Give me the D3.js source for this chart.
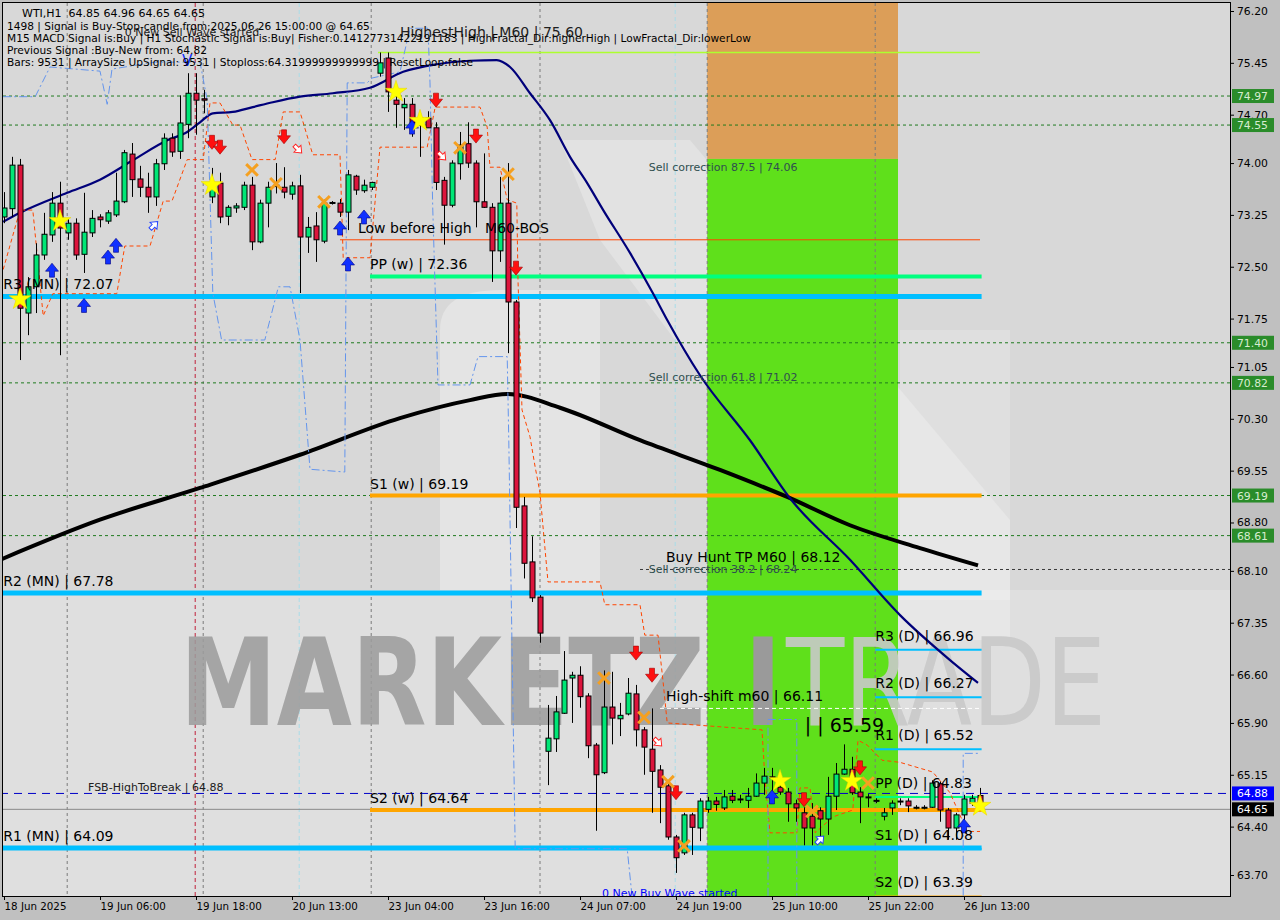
<!DOCTYPE html>
<html><head><meta charset="utf-8">
<script src="https://cdn.jsdelivr.net/npm/d3@7"></script>
<style>body{margin:0;background:#c0c0c0;overflow:hidden}svg{display:block}text{font-family:"DejaVu Sans",sans-serif;white-space:pre}</style>
</head><body>
<svg id="c" width="1280" height="920"></svg>
<script>
// ---------------- DATA ----------------
const opens=[73.22,73.34,73.97,71.83,72.21,72.67,72.96,73.42,72.99,73.13,
72.68,72.99,73.22,73.16,73.25,73.44,74.13,73.77,73.65,73.51,
73.99,74.36,74.17,74.56,75.01,74.93,73.51,73.71,73.23,73.35,
73.36,73.68,72.86,73.42,73.68,73.65,73.55,73.67,72.93,73.09,
72.87,73.42,73.42,73.29,73.81,73.60,73.65,75.30,75.52,74.91,
74.80,74.85,74.55,74.65,74.51,73.75,73.39,73.99,74.28,74.00,
73.44,73.36,72.73,73.42,71.99,69.04,68.23,67.72,65.49,65.67,
66.04,66.55,66.59,66.29,65.58,65.18,66.13,65.96,66.03,66.32,
65.80,65.52,65.22,64.99,64.25,64.02,64.57,64.38,64.65,64.77,
64.67,64.84,64.80,64.78,64.84,65.03,65.12,64.97,64.90,64.73,
64.60,64.55,64.63,64.51,64.84,65.16,65.23,64.90,64.83,64.78,
64.55,64.67,64.76,64.77,64.68,64.68,64.68,65.02,64.64,64.38,
64.57,64.74,64.85];
const highs=[73.58,74.09,74.06,72.35,72.84,73.28,73.58,73.73,73.20,73.20,
73.57,73.32,73.26,73.32,73.86,74.19,74.29,73.96,73.86,74.06,
74.43,74.43,74.98,75.30,75.30,75.06,73.93,73.86,73.39,73.42,
73.73,73.80,73.47,73.73,74.00,73.94,73.73,73.83,73.22,73.29,
73.47,73.45,73.48,73.90,73.83,73.76,73.73,75.60,75.60,75.06,
74.94,74.94,74.70,74.75,74.59,73.80,74.04,74.45,74.59,74.04,
74.14,73.42,73.80,74.00,72.02,69.17,68.60,67.75,66.16,66.29,
66.94,66.64,66.72,66.33,65.61,66.66,66.64,66.19,66.55,66.45,
65.84,66.11,65.29,65.02,64.28,64.60,64.60,64.81,64.83,64.83,
64.93,64.93,64.86,64.96,65.17,65.25,65.25,65.07,64.96,64.79,
64.68,64.74,64.68,65.12,65.32,65.59,65.41,64.97,64.87,64.81,
64.67,64.78,64.81,64.81,64.71,64.71,65.07,65.05,64.67,64.60,
64.86,64.86,64.96];
const lows=[73.13,73.22,71.15,71.51,71.83,72.60,72.86,71.22,72.89,72.60,
72.41,72.93,73.07,73.12,73.22,73.42,73.51,73.51,73.28,73.38,
73.90,74.09,74.06,74.36,74.41,74.72,73.42,73.13,73.10,73.28,
73.32,72.74,72.84,73.07,73.56,73.49,73.47,72.12,72.70,72.57,
72.84,73.40,73.22,73.03,73.54,73.57,73.61,75.25,74.74,74.51,
74.48,74.38,74.09,74.51,73.61,72.82,73.36,73.76,73.93,73.07,
73.35,72.28,72.57,71.25,68.72,67.99,67.65,67.06,65.00,65.48,
66.03,65.90,66.12,65.39,64.34,65.16,65.59,65.71,66.01,65.56,
65.15,64.60,64.45,64.21,63.73,63.99,63.99,64.19,64.60,64.63,
64.64,64.74,64.74,64.67,64.83,64.86,64.83,64.86,64.47,64.47,
64.13,64.13,64.21,64.28,64.64,65.15,64.86,64.45,64.68,64.74,
64.49,64.57,64.71,64.61,64.65,64.65,64.67,64.47,64.21,64.21,
64.49,64.70,64.65];
const closes=[73.35,73.97,71.90,72.21,72.67,72.97,73.42,73.06,73.13,72.67,
73.00,73.20,73.18,73.28,73.45,74.15,73.76,73.65,73.51,73.99,
74.36,74.16,74.58,75.01,74.91,74.91,73.71,73.22,73.36,73.38,
73.68,72.86,73.42,73.65,73.66,73.58,73.67,72.93,73.07,72.89,
73.42,73.43,73.29,73.83,73.61,73.68,73.72,75.45,75.03,74.85,
74.85,74.58,74.65,74.51,73.72,73.39,74.00,74.26,74.00,73.44,
73.36,72.73,73.42,71.99,69.02,68.21,67.71,67.20,65.68,66.06,
66.52,66.59,66.28,65.57,65.15,66.13,65.97,66.01,66.33,65.80,
65.55,65.20,64.97,64.25,63.95,64.57,64.39,64.77,64.77,64.72,
64.83,64.78,64.80,64.84,65.03,65.13,65.11,64.90,64.73,64.67,
64.38,64.38,64.51,64.84,65.16,65.23,64.89,64.83,64.83,64.78,
64.60,64.74,64.77,64.70,64.68,64.68,65.03,64.64,64.38,64.57,
64.80,64.81,64.65];

const navyIdx=[-0.1,2,7.9,12,16.1,20.4,22.9,24.5,26.1,28.6,31.1,33.6,37,41.1,45.75,49.9,54.1,58.25,61.6,63.25,65.75,68.25,70.75,72.9,74.9,78.25,81.1,82.9,87,93.25,98.25,105.75,112,118.25,121.75];
const navyVal=[73.15,73.28,73.57,73.76,74.04,74.33,74.45,74.59,74.72,74.74,74.81,74.88,74.96,75.01,75.09,75.32,75.43,75.48,75.49,75.39,75.01,74.62,74.09,73.71,73.32,72.70,72.12,71.73,70.93,69.99,69.15,68.26,67.46,66.81,66.48];
const blackIdx=[-0.5,12,24.5,37,49.5,58.25,62.9,69.5,79.5,89.5,97.9,105.75,114.5,121.75];
const blackVal=[68.26,68.84,69.30,69.78,70.31,70.57,70.66,70.46,69.99,69.56,69.17,68.76,68.43,68.18];

const stopIdx=[-0.1,2,3.6,4.9,6.1,14.1,15.1,18.25,19.9,21,22.9,24.9,25.75,27,28.6,29.5,31,33.9,34.9,37,38.6,42,42.4,45.75,47,52.9,53.9,59.5,60.4,60.75,62,62.9,64.1,64.25,64.75,65.75,66.4,67,67.6,68,74.5,75.1,79.5,80.1,81.75,82.4,82.9,94.75,95.1,95.75,99.1,99.5,100.75,101.4,103.6,106.1,106.75,107.9,109.75,112,116.1,118.25,120.4,122];
const stopVal=[72.46,73.32,73.32,71.79,72.11,72.11,72.80,72.80,73.45,73.45,74.05,74.05,74.87,74.87,74.55,74.55,74.05,74.05,74.74,74.74,74.12,74.12,72.63,72.63,74.23,74.23,74.81,74.81,74.52,73.94,73.94,73.47,73.42,72.31,70.43,70.04,69.60,69.23,68.45,67.94,67.94,67.61,67.61,67.17,67.17,66.48,65.90,65.80,65.12,64.31,64.31,64.96,64.96,64.31,64.54,64.64,65.65,65.58,65.36,65.33,65.19,64.89,64.33,64.33];
const bandIdx=[-0.1,3.9,5.75,12,12.9,13.5,18.9,24.5,25.4,26.1,27.2,32.6,34.3,35.75,37,38.25,42.6,42.9,45.4,46,49.5,50.75,53,53.25,53.6,54.25,58.25,59.25,62.9,63.1,63.5,63.9,77.9,78.5];
const bandVal=[74.96,74.96,75.39,75.33,74.85,75.36,75.46,75.46,74.91,72.12,71.44,71.44,72.21,72.21,71.44,69.57,69.53,75.16,75.16,75.23,75.32,75.95,75.95,75.16,73.32,70.79,70.79,71.20,71.20,69.98,67.02,64.08,64.08,63.40];
const band2Idx=[95.5,95.5,99.1,99.1];
const band2Val=[63.40,65.95,65.95,63.40];
const band3Idx=[119.9,119.9,121.9];
const band3Val=[63.40,65.46,65.46];

const starPts=[[2,72.03],[7,73.16],[26,73.68],[49,75.03],[52,74.61],[97,65.06],[106,65.06],[122,64.70]];
const crossPts=[[31,73.90],[34,73.70],[40,73.44],[57,74.22],[63,73.84],[75,66.55],[80,65.98],[83,65.05],[85,64.12],[101,64.62],[108,65.03]];
const sellArrows=[[26,74.30],[27,74.23],[35,74.38],[54,74.91],[59,74.39],[64,72.48],[79,66.91],[81,66.59],[84,64.89],[100,64.79],[107,65.25]];
const buyArrows=[[6,72.45],[10,71.94],[13,72.64],[14,72.81],[42,73.06],[43,72.54],[45,73.22],[51,74.52],[96,64.83],[120,64.41]];
const hollowSell=[[36.75,74.20],[54.75,74.10],[81.75,65.62]];
const hollowBuy=[[18.75,73.10],[102,64.21]];

const mnNames=["R3 (MN)","R2 (MN)","R1 (MN)"];
const mnVals=[72.07,67.78,64.09];
const wkNames=["PP (w)","S1 (w)","S2 (w)"];
const wkVals=[72.36,69.19,64.64];
const dNames=["R3 (D)","R2 (D)","R1 (D)","PP (D)","S1 (D)","S2 (D)"];
const dVals=[66.96,66.27,65.52,64.83,64.08,63.39];
const greenLevels=[74.97,74.55,71.40,70.82,69.19,68.61];
const fibNames=["Sell correction 87.5","Sell correction 61.8","Sell correction 38.2"];
const fibVals=[74.06,71.02,68.24];
const highestHigh=75.60, lowBeforeHigh=72.89, buyHuntTP=68.12, highShift=66.11, fsbHigh=64.88, lastPrice=64.65, zoneHigh=65.59;
const zoneBars=[87.9,111.75];
const priceTicks=[76.20,75.45,74.70,74.00,73.25,72.50,71.75,71.05,70.30,69.55,68.80,68.10,67.35,66.60,65.90,65.15,64.40,63.70];
const timeIdx=[0,12,24,36,48,60,72,84,96,108,120];
const timeLabels=["18 Jun 2025","19 Jun 06:00","19 Jun 18:00","20 Jun 13:00","23 Jun 04:00","23 Jun 16:00","24 Jun 07:00","24 Jun 19:00","25 Jun 10:00","25 Jun 22:00","26 Jun 13:00"];
const daySeps=[7.9,24.9,45.9,67,87.9,108.9];
const headerLines=["1498 | Signal is Buy-Stop-candle from:2025.06.26 15:00:00 @ 64.65",
"M15 MACD Signal is:Buy | H1 Stochastic Signal is:Buy| Fisher:0.14127731422191183 | HighFractal_Dir:higherHigh | LowFractal_Dir:lowerLow",
"Previous Signal :Buy-New from: 64.82",
"Bars: 9531 | ArraySize UpSignal: 9531 | Stoploss:64.31999999999999 | ResetLoop:false"];
const titleLine="WTI,H1  64.85 64.96 64.65 64.65";

// ---------------- DRAW ----------------
const svg=d3.select("#c");
const L=3,R=1230,T=3,B=896;
const x=d3.scaleLinear().domain([0,122]).range([4,980]);
const y=d3.scaleLinear().domain([63.70,76.20]).range([875,11]);
const pmax=y.invert(T), pmin=y.invert(B);

svg.append("rect").attr("width",1280).attr("height",920).attr("fill","#c0c0c0");
const defs=svg.append("defs");
defs.append("clipPath").attr("id","clip").append("rect").attr("x",L).attr("y",T).attr("width",R-L).attr("height",B-T);
const g=svg.append("g").attr("clip-path","url(#clip)");
g.append("rect").attr("x",L).attr("y",T).attr("width",R-L).attr("height",B-T).attr("fill","#d8d8d8");
// faint logo shapes
g.append("rect").attr("x",L).attr("y",590).attr("width",R-L).attr("height",B-590).attr("fill","#fff").attr("opacity",0.18);
g.append("path").attr("d","M440,330 Q440,290 500,290 L600,290 L600,590 L440,590 Z").attr("fill","#fff").attr("opacity",0.3);
g.append("path").attr("d","M560,140 L690,140 L1010,520 L1010,640 L900,640 L600,240 Z").attr("fill","#fff").attr("opacity",0.25);
g.append("path").attr("d","M900,330 L1010,330 L1010,600 L900,600 Z").attr("fill","#fff").attr("opacity",0.18);

// zone rects
g.append("rect").attr("x",x(zoneBars[0])).attr("y",y(pmax)).attr("width",x(zoneBars[1])-x(zoneBars[0])).attr("height",y(fibVals[0])-y(pmax)).attr("fill","#dc9e58");
g.append("rect").attr("x",x(zoneBars[0])).attr("y",y(fibVals[0])).attr("width",x(zoneBars[1])-x(zoneBars[0])).attr("height",y(pmin)-y(fibVals[0])).attr("fill","#5fe01b");

// day separators
g.selectAll(".sep").data(daySeps).join("line").attr("x1",d=>x(d)).attr("x2",d=>x(d)).attr("y1",T).attr("y2",B)
 .attr("stroke","#7a7a7a").attr("stroke-dasharray","3,3");
g.append("line").attr("x1",x(23.9)).attr("x2",x(23.9)).attr("y1",T).attr("y2",B).attr("stroke","#c0203a").attr("stroke-dasharray","4,3");
[36.9,83.9].forEach(d=>g.append("line").attr("x1",x(d)).attr("x2",x(d)).attr("y1",T).attr("y2",B).attr("stroke","#a8dce8").attr("stroke-dasharray","4,3"));

// watermark
g.append("text").attr("x",180).attr("y",725).attr("font-size",122).attr("font-weight","bold")
 .attr("textLength",525).attr("lengthAdjust","spacingAndGlyphs").attr("fill","#9c9c9c").attr("opacity",0.85).text("MARKETZ");
g.append("text").attr("x",744).attr("y",725).attr("font-size",122).attr("font-weight","bold")
 .attr("textLength",38).attr("lengthAdjust","spacingAndGlyphs").attr("fill","#9a9a9a").text("I");
g.append("text").attr("x",786).attr("y",725).attr("font-size",122)
 .attr("textLength",320).attr("lengthAdjust","spacingAndGlyphs").attr("fill","#c9c9c9").attr("opacity",0.9).text("TRADE");

// green dashed levels
g.selectAll(".gl").data(greenLevels).join("line").attr("x1",L).attr("x2",R).attr("y1",d=>y(d)).attr("y2",d=>y(d))
 .attr("stroke","#1f7a1f").attr("stroke-dasharray","3,3");
// other level lines
const hl=(i0,i1,v,c,w,dash)=>{const l=g.append("line").attr("x1",x(i0)).attr("x2",i1==="R"?R:x(i1))
 .attr("y1",y(v)).attr("y2",y(v)).attr("stroke",c).attr("stroke-width",w); if(dash) l.attr("stroke-dasharray",dash);};
hl(79.5,"R",buyHuntTP,"#3a3a3a",1,"3,3");
hl(-0.5,"R",fsbHigh,"#0000c8",1,"8,6");
hl(-0.5,"R",lastPrice,"#8a8a8a",1,null);
hl(46.75,122,highestHigh,"#adff2f",1.5,null);
hl(42,122,lowBeforeHigh,"#ff4500",1,null);
hl(82,122.2,highShift,"#ffffff",1,"4,3");
mnVals.forEach(v=>hl(-0.5,122.2,v,"#00bfff",5,null));
hl(45.75,122.2,wkVals[0],"#00ff7f",4,null);
hl(45.75,122.2,wkVals[1],"#ffa500",4,null);
hl(45.75,122.2,wkVals[2],"#ffa500",4,null);
dVals.forEach((v,i)=>hl(108.9,122.2,v,i===3?"#00ff7f":(i===5?"#ffa500":"#00bfff"),2,null));

// MAs
const ln=d3.line().x(d=>x(d[0])).y(d=>y(d[1])).curve(d3.curveMonotoneX);
g.append("path").attr("d",ln(blackIdx.map((d,i)=>[d,blackVal[i]]))).attr("fill","none").attr("stroke","#000").attr("stroke-width",4);
g.append("path").attr("d",ln(navyIdx.map((d,i)=>[d,navyVal[i]]))).attr("fill","none").attr("stroke","#00007a").attr("stroke-width",2.2);
// dashed indicator paths
const ll=d3.line().x(d=>x(d[0])).y(d=>y(d[1]));
g.append("path").attr("d",ll(stopIdx.map((d,i)=>[d,stopVal[i]]))).attr("fill","none").attr("stroke","#ff4500").attr("stroke-dasharray","4,3");
[[bandIdx,bandVal],[band2Idx,band2Val],[band3Idx,band3Val]].forEach(([a,b])=>
 g.append("path").attr("d",ll(a.map((d,i)=>[d,b[i]]))).attr("fill","none").attr("stroke","#6495ed").attr("stroke-dasharray","8,3,2,3"));

// candles
const idx=d3.range(opens.length);
const cg=g.append("g");
cg.selectAll(".wick").data(idx).join("line").attr("x1",i=>Math.round(x(i))+0.5).attr("x2",i=>Math.round(x(i))+0.5).attr("y1",i=>y(highs[i])).attr("y2",i=>y(lows[i]))
 .attr("stroke","#000").attr("stroke-width",1);
cg.selectAll(".body").data(idx).join("rect")
 .attr("x",i=>Math.round(x(i))-2).attr("width",5)
 .attr("y",i=>y(Math.max(opens[i],closes[i])))
 .attr("height",i=>Math.max(1,Math.abs(y(opens[i])-y(closes[i]))))
 .attr("fill",i=>closes[i]>=opens[i]?"#00e676":"#dc143c").attr("stroke","#000").attr("stroke-width",1);

// markers
const arrow="M-2.5,-7L2.5,-7L2.5,-1L6.5,-1L0,7L-6.5,-1L-2.5,-1Z";
g.selectAll(".sa").data(sellArrows).join("path").attr("d",arrow).attr("transform",d=>`translate(${x(d[0])},${y(d[1])})`)
 .attr("fill","#ff1010").attr("stroke","#a00000").attr("stroke-width",0.6);
g.selectAll(".ba").data(buyArrows).join("path").attr("d",arrow).attr("transform",d=>`translate(${x(d[0])},${y(d[1])}) rotate(180)`)
 .attr("fill","#1030ff").attr("stroke","#000080").attr("stroke-width",0.6);
g.selectAll(".hs").data(hollowSell).join("path").attr("d",arrow).attr("transform",d=>`translate(${x(d[0])},${y(d[1])}) rotate(-45) scale(0.75)`)
 .attr("fill","#fff").attr("stroke","#ff2020").attr("stroke-width",1.3);
g.selectAll(".hb").data(hollowBuy).join("path").attr("d",arrow).attr("transform",d=>`translate(${x(d[0])},${y(d[1])}) rotate(225) scale(0.75)`)
 .attr("fill","#fff").attr("stroke","#2040ff").attr("stroke-width",1.3);
g.selectAll(".st").data(starPts).join("path").attr("d",d3.symbol(d3.symbolStar).size(150)).attr("transform",d=>`translate(${x(d[0])},${y(d[1])})`)
 .attr("fill","#ffff00").attr("stroke","#e6d200").attr("stroke-width",0.5);
g.selectAll(".cx").data(crossPts).join("path").attr("d",d3.symbol(d3.symbolTimes).size(90)).attr("transform",d=>`translate(${x(d[0])},${y(d[1])})`)
 .attr("fill","none").attr("stroke","#f5a020").attr("stroke-width",3);
g.append("text").attr("x",x(22.9)).attr("y",y(75.40)).attr("text-anchor","middle").attr("font-size",15).attr("fill","#1030ff").text("V");

// labels
const lab=(tx,ty,s,size,col)=>g.append("text").attr("x",tx).attr("y",ty).attr("font-size",size).attr("fill",col||"#000").text(s);
mnNames.forEach((n,i)=>lab(x(-0.1),y(mnVals[i])-7,`${n} | ${mnVals[i].toFixed(2)}`,14));
wkNames.forEach((n,i)=>lab(x(45.75),y(wkVals[i])-7,`${n} | ${wkVals[i].toFixed(2)}`,14));
dNames.forEach((n,i)=>lab(x(108.9),y(dVals[i])-9,`${n} | ${dVals[i].toFixed(2)}`,14));
fibNames.forEach((n,i)=>lab(x(80.6),y(fibVals[i])+12,`${n} | ${fibVals[i].toFixed(2)}`,11,"#2f4f4f"));
lab(x(82.75),y(buyHuntTP)-7,`Buy Hunt TP M60 | ${buyHuntTP.toFixed(2)}`,14);
lab(x(82.75),y(highShift)-7,`High-shift m60 | ${highShift.toFixed(2)}`,14);
lab(x(100.1),y(zoneHigh)-12,`| | ${zoneHigh.toFixed(2)}`,19);
lab(x(10.5),y(fsbHigh)-2,`FSB-HighToBreak | ${fsbHigh.toFixed(2)}`,11,"#202020");
lab(x(44.25),y(lowBeforeHigh)-7,"Low before High\u00a0\u00a0\u00a0M60-BOS",14);
lab(x(49.5),37,`HighestHigh | M60 | ${highestHigh.toFixed(2)}`,14,"#202020");
lab(x(15.1),36,"0 New Sell Wave started",11,"#202020");
lab(x(74.75),y(pmin)+1,"0 New Buy Wave started",11,"#0000ff");

// header
svg.append("text").attr("x",22).attr("y",17).attr("font-size",11).attr("fill","#000").text(titleLine);
headerLines.forEach((s,i)=>svg.append("text").attr("x",7).attr("y",29.5+i*12.3).attr("font-size",10.6).attr("fill","#000").text(s));

// frame
svg.append("rect").attr("x",L-0.5).attr("y",T-0.5).attr("width",R-L+1).attr("height",B-T+1).attr("fill","none").attr("stroke","#000");

// axes
const ya=svg.append("g").attr("transform",`translate(${R},0)`).call(d3.axisRight(y).tickValues(priceTicks).tickSize(4).tickPadding(3).tickFormat(d=>d.toFixed(2)));
ya.select(".domain").remove();
ya.selectAll("text").attr("font-size",10.8).attr("font-family","DejaVu Sans").attr("fill","#000");
const xa=svg.append("g").attr("transform",`translate(0,${B})`).call(d3.axisBottom(x).tickValues(timeIdx).tickSize(4).tickPadding(3).tickFormat((d,i)=>timeLabels[i]));
xa.select(".domain").remove();
xa.selectAll("text").attr("text-anchor","start").attr("font-size",10.3).attr("font-family","DejaVu Sans").attr("fill","#000");

// right price boxes
const box=(v,bg,fg)=>{const gg=svg.append("g").attr("transform",`translate(${R+2},${y(v)})`);
 gg.append("rect").attr("x",0).attr("y",-7).attr("width",42).attr("height",14).attr("fill",bg);
 gg.append("text").attr("x",5).attr("y",4).attr("font-size",10.8).attr("fill",fg).text(v.toFixed(2));};
greenLevels.forEach(v=>box(v,"#2a8c2a","#d8ecd0"));
box(fsbHigh,"#0000ff","#fff");
box(lastPrice,"#000","#fff");
</script>
</body></html>
